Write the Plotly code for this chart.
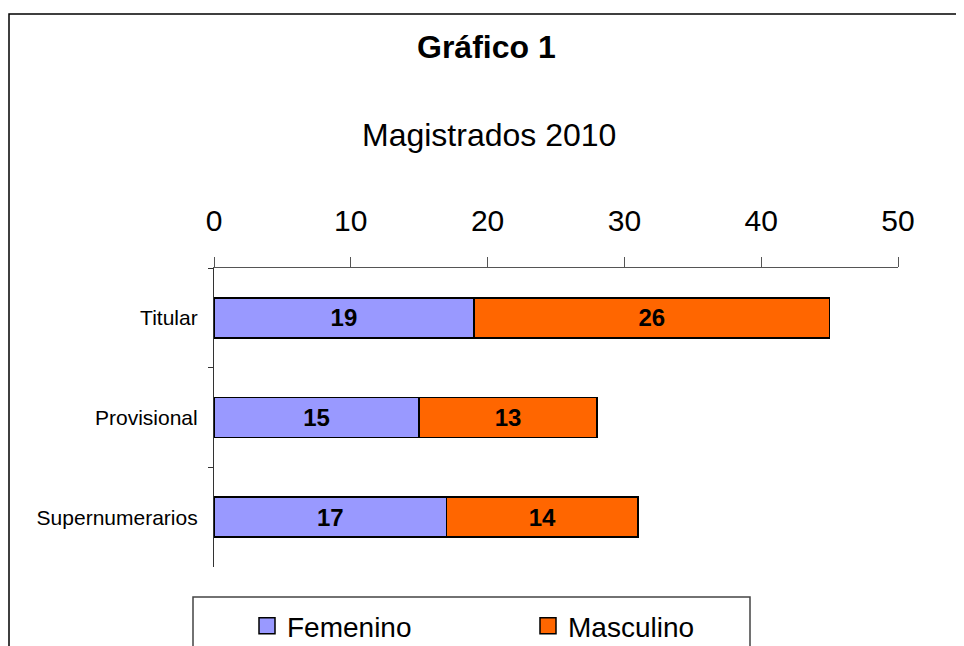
import plotly.graph_objects as go

categories = ["Titular", "Provisional", "Supernumerarios"]
femenino = [19, 15, 17]
masculino = [26, 13, 14]
x_ticks = [0, 10, 20, 30, 40, 50]

FONT = "Arial, Liberation Sans, sans-serif"
COL_F = "#9999FF"
COL_M = "#FF6600"

OFF = 8  # page body margin
W, H = 964 - OFF, 646 - OFF
pw, ph = 684, 299
L, T = 214 - OFF, 268 - OFF
R, B = W - L - pw, H - T - ph

def px(xd):
    return (xd - OFF - L) / pw

def py(yd):
    return (H - B - (yd - OFF)) / ph

fig = go.Figure()
for name, vals, col in [("Femenino", femenino, COL_F), ("Masculino", masculino, COL_M)]:
    fig.add_trace(go.Bar(
        y=categories, x=vals, name=name, orientation="h",
        marker=dict(color=col, line=dict(color="black", width=1.5)),
        text=vals, textposition="inside", insidetextanchor="middle",
        constraintext="none",
        textfont=dict(family=FONT, size=24, color="black", weight="bold"),
        showlegend=False,
    ))
    fig.add_trace(go.Scatter(
        x=[None], y=[None], mode="markers", name=name,
        marker=dict(symbol="square", size=16, color=col, line=dict(color="black", width=1.5)),
        showlegend=True,
    ))

fig.update_layout(
    width=W, height=H,
    margin=dict(l=L, r=R, t=T, b=B, autoexpand=False),
    paper_bgcolor="white", plot_bgcolor="white",
    barmode="stack", bargap=0.6,
    font=dict(family=FONT, color="black"),
    showlegend=True,
    legend=dict(
        orientation="h", traceorder="normal",
        x=px(247), xanchor="left", y=py(626), yanchor="middle",
        font=dict(family=FONT, size=28, color="black"),
        entrywidth=236, bgcolor="rgba(0,0,0,0)",
    ),
    xaxis=dict(
        side="top", range=[0, 50], tickvals=x_ticks, ticktext=[str(t) for t in x_ticks],
        ticks="outside", ticklen=10, tickcolor="#555", tickwidth=1.2,
        showline=True, linecolor="#555", linewidth=1.2,
        showgrid=False, zeroline=False,
        tickfont=dict(family=FONT, size=30, color="black"),
        ticklabelstandoff=14,
    ),
    yaxis=dict(
        type="category", categoryorder="array", categoryarray=categories,
        autorange="reversed",
        ticks="outside", tickson="boundaries", ticklen=5, tickcolor="#333", tickwidth=1.2,
        showline=True, linecolor="#333", linewidth=1.2,
        showgrid=False, zeroline=False,
        tickfont=dict(family=FONT, size=21, color="black"),
        ticklabelstandoff=11,
    ),
    annotations=[
        dict(text="<b>Gráfico 1</b>", x=px(486), y=py(47), xref="paper", yref="paper",
             xanchor="center", yanchor="middle", showarrow=False,
             font=dict(family=FONT, size=32, color="black")),
        dict(text="Magistrados 2010", x=px(489), y=py(135), xref="paper", yref="paper",
             xanchor="center", yanchor="middle", showarrow=False,
             font=dict(family=FONT, size=32, color="black")),
    ],
    shapes=[
        dict(type="rect", xref="paper", yref="paper",
             x0=px(9), x1=px(990), y0=py(700), y1=py(14),
             line=dict(color="black", width=1.5), fillcolor="rgba(0,0,0,0)", layer="below"),
        dict(type="rect", xref="paper", yref="paper",
             x0=px(193), x1=px(750), y0=py(700), y1=py(597),
             line=dict(color="#444", width=1.5), fillcolor="rgba(0,0,0,0)", layer="below"),
    ],
)

fig.write_html("out.html")
